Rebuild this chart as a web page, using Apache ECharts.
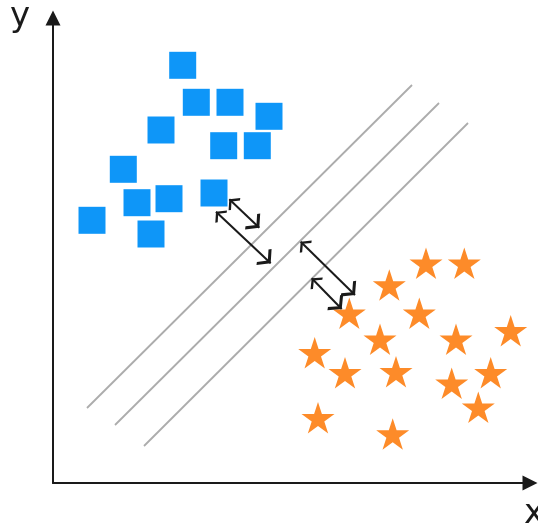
<!DOCTYPE html>
<html>
<head>
<meta charset="utf-8">
<script src="https://cdn.jsdelivr.net/npm/echarts@6/dist/echarts.min.js"></script>
<style>html,body{margin:0;padding:0;background:#fff}#c{width:538px;height:530px}</style>
</head>
<body>
<div id="c"></div>
<script>
// Axis names
var axisNames = ['x', 'y'];
// Class A (blue squares): [x, y]
var classA = [
  [129.7, 417.7], [143.3, 380.7], [177, 380.7], [216, 366.7], [108, 353],
  [170.7, 337.3], [204.3, 337.3], [70.3, 313.7], [84, 280.3], [116, 284.3],
  [161, 290], [39, 262.7], [98, 249]
];
// Class B (orange stars): [x, y]
var classB = [
  [373, 219.7], [411.3, 219.7], [336.3, 198], [296.3, 169.7], [366.3, 169.7],
  [327, 143.7], [403, 143.7], [457.7, 152.3], [261.7, 130.3], [292, 110.3],
  [343, 111.3], [398.7, 99.7], [437.7, 110.3], [425.3, 75.7], [265, 65.3],
  [339.7, 49]
];
// Separating hyperplane and margins: [[x1,y1],[x2,y2]]
var marginUpper = [[34, 75], [359, 398]];
var hyperplane = [[62, 58], [386, 380]];
var marginLower = [[91, 37], [415, 360]];
// Margin distance arrows
var marginArrows = [
  [[176.3, 283.7], [206.3, 255.3]],
  [[163, 271.3], [217.7, 219.7]],
  [[247.7, 241.3], [302, 188]],
  [[258.7, 204.7], [288.7, 174]]
];

var starPath = 'path://M50,0 L61.23,34.55 L97.55,34.55 L68.17,55.9 L79.39,90.45 L50,69.1 L20.61,90.45 L31.83,55.9 L2.45,34.55 L38.77,34.55 Z';
var chevron = 'path://M10,1.6 M10,10 L16.5,17 L15,18.4 L10,13 L5,18.4 L3.5,17 Z';

function seg(pts, name) {
  return {
    name: name, type: 'line', data: pts, symbol: 'none', silent: true,
    lineStyle: { color: '#acacac', width: 1.8 }, z: 1
  };
}

var chart = echarts.init(document.getElementById('c'), null, { renderer: 'canvas' });
chart.setOption({
  animation: false,
  backgroundColor: '#fff',
  grid: { left: 53, right: 8, top: 18, bottom: 47, outerBoundsMode: 'none', containLabel: false },
  xAxis: {
    type: 'value', min: 0, max: 477,
    name: axisNames[0], nameLocation: 'end', nameGap: -6,
    nameTextStyle: { fontFamily: 'DejaVu Sans', fontSize: 34, color: '#1a1a1a', align: 'left', verticalAlign: 'top', padding: [14, 0, 0, 0] },
    axisLine: { show: true, symbol: ['none', 'triangle'], symbolSize: [15, 15], lineStyle: { color: '#1a1a1a', width: 2 } },
    axisTick: { show: false }, axisLabel: { show: false }, splitLine: { show: false }
  },
  yAxis: {
    type: 'value', min: 0, max: 465,
    name: axisNames[1], nameLocation: 'end', nameGap: 18,
    nameTextStyle: { fontFamily: 'DejaVu Sans', fontSize: 34, color: '#1a1a1a', align: 'right', verticalAlign: 'top', padding: [0, 23, 0, 0] },
    axisLine: { show: true, symbol: ['none', 'triangle'], symbolSize: [15, 15], lineStyle: { color: '#1a1a1a', width: 2 } },
    axisTick: { show: false }, axisLabel: { show: false }, splitLine: { show: false }
  },
  series: [
    seg(marginUpper, 'upper'),
    seg(hyperplane, 'hyperplane'),
    seg(marginLower, 'lower'),
    {
      type: 'scatter', name: 'A', data: classA, symbol: 'rect', symbolSize: 27,
      itemStyle: { color: '#0e96f8', opacity: 1 }, z: 2
    },
    {
      type: 'scatter', name: 'B', data: classB, symbol: starPath, symbolSize: [33, 31.4],
      itemStyle: { color: '#fd8b29', opacity: 1 }, z: 2
    },
    {
      type: 'lines', coordinateSystem: 'cartesian2d', z: 3,
      data: marginArrows.map(function (c) { return { coords: c }; }),
      symbol: [chevron, chevron], symbolSize: [17, 22],
      lineStyle: { color: '#1a1a1a', width: 2, opacity: 1 },
      itemStyle: { color: '#1a1a1a' }
    }
  ]
});
</script>
</body>
</html>
